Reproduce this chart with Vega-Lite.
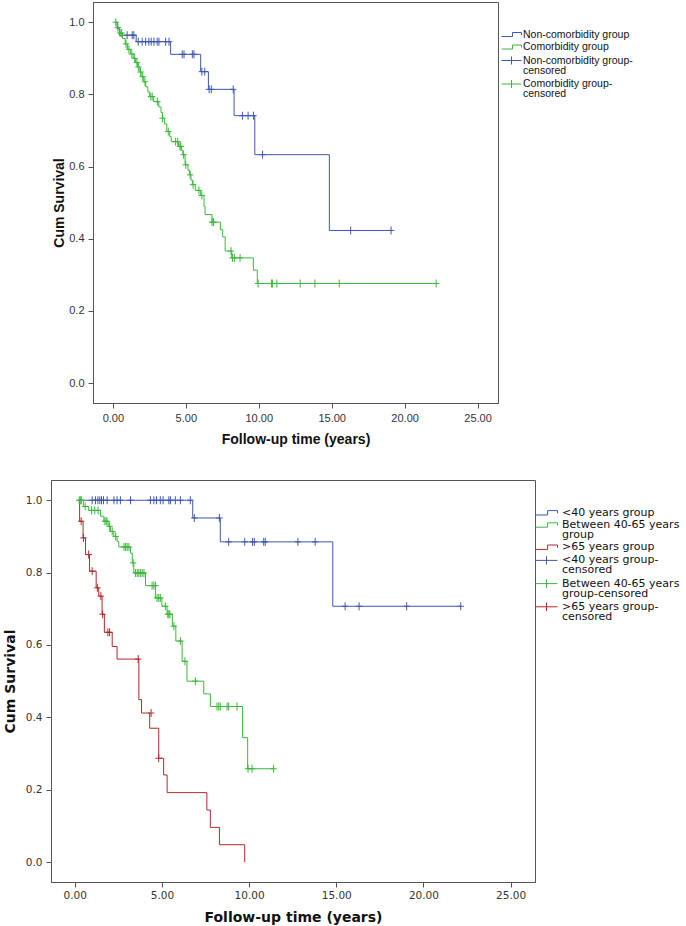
{
  "$schema": "https://vega.github.io/schema/vega-lite/v6.json",
  "background": "white",
  "padding": {"left": 2, "top": 1, "right": 0, "bottom": 0},
  "spacing": 32,
  "config": {
    "view": {"stroke": "#555", "strokeWidth": 1},
    "axis": {"grid": false, "domainColor": "#555", "tickColor": "#555", "tickSize": 5, "labelColor": "#333", "titleColor": "#111", "titleFontWeight": "bold"}
  },
  "datasets": {
    "top_curves": [
      {"s": "Non-comorbidity group", "t": 0.2, "y": 1.0},
      {"s": "Non-comorbidity group", "t": 0.3, "y": 0.982},
      {"s": "Non-comorbidity group", "t": 0.45, "y": 0.964},
      {"s": "Non-comorbidity group", "t": 1.6, "y": 0.946},
      {"s": "Non-comorbidity group", "t": 3.96, "y": 0.911},
      {"s": "Non-comorbidity group", "t": 6.02, "y": 0.863},
      {"s": "Non-comorbidity group", "t": 6.55, "y": 0.814},
      {"s": "Non-comorbidity group", "t": 8.31, "y": 0.741},
      {"s": "Non-comorbidity group", "t": 9.73, "y": 0.633},
      {"s": "Non-comorbidity group", "t": 14.84, "y": 0.423},
      {"s": "Non-comorbidity group", "t": 19.07, "y": 0.423},
      {"s": "Comorbidity group", "t": 0.2, "y": 1.0},
      {"s": "Comorbidity group", "t": 0.3, "y": 0.985},
      {"s": "Comorbidity group", "t": 0.45, "y": 0.97},
      {"s": "Comorbidity group", "t": 0.66, "y": 0.955},
      {"s": "Comorbidity group", "t": 0.85, "y": 0.94},
      {"s": "Comorbidity group", "t": 1.0, "y": 0.925},
      {"s": "Comorbidity group", "t": 1.2, "y": 0.912},
      {"s": "Comorbidity group", "t": 1.4, "y": 0.9},
      {"s": "Comorbidity group", "t": 1.56, "y": 0.888},
      {"s": "Comorbidity group", "t": 1.7, "y": 0.876},
      {"s": "Comorbidity group", "t": 1.85, "y": 0.862},
      {"s": "Comorbidity group", "t": 2.0, "y": 0.849},
      {"s": "Comorbidity group", "t": 2.12, "y": 0.835},
      {"s": "Comorbidity group", "t": 2.25, "y": 0.821},
      {"s": "Comorbidity group", "t": 2.4, "y": 0.807},
      {"s": "Comorbidity group", "t": 2.5, "y": 0.794},
      {"s": "Comorbidity group", "t": 2.8, "y": 0.78},
      {"s": "Comorbidity group", "t": 3.15, "y": 0.765},
      {"s": "Comorbidity group", "t": 3.3, "y": 0.75},
      {"s": "Comorbidity group", "t": 3.4, "y": 0.734},
      {"s": "Comorbidity group", "t": 3.55, "y": 0.718},
      {"s": "Comorbidity group", "t": 3.7, "y": 0.697},
      {"s": "Comorbidity group", "t": 3.9, "y": 0.683},
      {"s": "Comorbidity group", "t": 4.0, "y": 0.669},
      {"s": "Comorbidity group", "t": 4.5, "y": 0.656},
      {"s": "Comorbidity group", "t": 4.7, "y": 0.645},
      {"s": "Comorbidity group", "t": 4.8, "y": 0.633},
      {"s": "Comorbidity group", "t": 4.95, "y": 0.605},
      {"s": "Comorbidity group", "t": 5.15, "y": 0.59},
      {"s": "Comorbidity group", "t": 5.25, "y": 0.577},
      {"s": "Comorbidity group", "t": 5.35, "y": 0.563},
      {"s": "Comorbidity group", "t": 5.45, "y": 0.55},
      {"s": "Comorbidity group", "t": 5.65, "y": 0.534},
      {"s": "Comorbidity group", "t": 6.0, "y": 0.52},
      {"s": "Comorbidity group", "t": 6.25, "y": 0.49},
      {"s": "Comorbidity group", "t": 6.32, "y": 0.467},
      {"s": "Comorbidity group", "t": 6.8, "y": 0.446},
      {"s": "Comorbidity group", "t": 7.37, "y": 0.425},
      {"s": "Comorbidity group", "t": 7.53, "y": 0.405},
      {"s": "Comorbidity group", "t": 7.7, "y": 0.366},
      {"s": "Comorbidity group", "t": 8.15, "y": 0.347},
      {"s": "Comorbidity group", "t": 9.63, "y": 0.313},
      {"s": "Comorbidity group", "t": 9.9, "y": 0.276},
      {"s": "Comorbidity group", "t": 22.16, "y": 0.276}
    ],
    "top_censored": [
      {"s": "Non-comorbidity group-censored", "t": 0.98, "y": 0.964},
      {"s": "Non-comorbidity group-censored", "t": 1.33, "y": 0.964},
      {"s": "Non-comorbidity group-censored", "t": 1.44, "y": 0.964},
      {"s": "Non-comorbidity group-censored", "t": 1.74, "y": 0.946},
      {"s": "Non-comorbidity group-censored", "t": 2.01, "y": 0.946},
      {"s": "Non-comorbidity group-censored", "t": 2.25, "y": 0.946},
      {"s": "Non-comorbidity group-censored", "t": 2.47, "y": 0.946},
      {"s": "Non-comorbidity group-censored", "t": 2.63, "y": 0.946},
      {"s": "Non-comorbidity group-censored", "t": 2.82, "y": 0.946},
      {"s": "Non-comorbidity group-censored", "t": 3.04, "y": 0.946},
      {"s": "Non-comorbidity group-censored", "t": 3.16, "y": 0.946},
      {"s": "Non-comorbidity group-censored", "t": 3.62, "y": 0.946},
      {"s": "Non-comorbidity group-censored", "t": 3.85, "y": 0.946},
      {"s": "Non-comorbidity group-censored", "t": 4.76, "y": 0.911},
      {"s": "Non-comorbidity group-censored", "t": 4.88, "y": 0.911},
      {"s": "Non-comorbidity group-censored", "t": 5.45, "y": 0.911},
      {"s": "Non-comorbidity group-censored", "t": 5.56, "y": 0.911},
      {"s": "Non-comorbidity group-censored", "t": 6.1, "y": 0.863},
      {"s": "Non-comorbidity group-censored", "t": 6.3, "y": 0.863},
      {"s": "Non-comorbidity group-censored", "t": 6.6, "y": 0.814},
      {"s": "Non-comorbidity group-censored", "t": 6.75, "y": 0.814},
      {"s": "Non-comorbidity group-censored", "t": 8.25, "y": 0.814},
      {"s": "Non-comorbidity group-censored", "t": 8.88, "y": 0.741},
      {"s": "Non-comorbidity group-censored", "t": 9.27, "y": 0.741},
      {"s": "Non-comorbidity group-censored", "t": 9.64, "y": 0.741},
      {"s": "Non-comorbidity group-censored", "t": 10.26, "y": 0.633},
      {"s": "Non-comorbidity group-censored", "t": 16.3, "y": 0.423},
      {"s": "Non-comorbidity group-censored", "t": 19.07, "y": 0.423},
      {"s": "Comorbidity group-censored", "t": 0.2, "y": 1.0},
      {"s": "Comorbidity group-censored", "t": 0.35, "y": 0.985},
      {"s": "Comorbidity group-censored", "t": 0.5, "y": 0.97},
      {"s": "Comorbidity group-censored", "t": 0.6, "y": 0.97},
      {"s": "Comorbidity group-censored", "t": 0.9, "y": 0.94},
      {"s": "Comorbidity group-censored", "t": 1.1, "y": 0.925},
      {"s": "Comorbidity group-censored", "t": 1.3, "y": 0.912},
      {"s": "Comorbidity group-censored", "t": 1.5, "y": 0.9},
      {"s": "Comorbidity group-censored", "t": 1.65, "y": 0.888},
      {"s": "Comorbidity group-censored", "t": 1.75, "y": 0.876},
      {"s": "Comorbidity group-censored", "t": 1.9, "y": 0.862},
      {"s": "Comorbidity group-censored", "t": 2.05, "y": 0.849},
      {"s": "Comorbidity group-censored", "t": 2.2, "y": 0.835},
      {"s": "Comorbidity group-censored", "t": 2.6, "y": 0.794},
      {"s": "Comorbidity group-censored", "t": 2.7, "y": 0.794},
      {"s": "Comorbidity group-censored", "t": 3.05, "y": 0.78},
      {"s": "Comorbidity group-censored", "t": 3.4, "y": 0.734},
      {"s": "Comorbidity group-censored", "t": 3.8, "y": 0.697},
      {"s": "Comorbidity group-censored", "t": 4.3, "y": 0.669},
      {"s": "Comorbidity group-censored", "t": 4.45, "y": 0.669},
      {"s": "Comorbidity group-censored", "t": 4.6, "y": 0.656},
      {"s": "Comorbidity group-censored", "t": 4.66, "y": 0.656},
      {"s": "Comorbidity group-censored", "t": 4.85, "y": 0.633},
      {"s": "Comorbidity group-censored", "t": 5.0, "y": 0.605},
      {"s": "Comorbidity group-censored", "t": 5.3, "y": 0.577},
      {"s": "Comorbidity group-censored", "t": 5.5, "y": 0.55},
      {"s": "Comorbidity group-censored", "t": 5.9, "y": 0.534},
      {"s": "Comorbidity group-censored", "t": 6.1, "y": 0.52},
      {"s": "Comorbidity group-censored", "t": 6.8, "y": 0.446},
      {"s": "Comorbidity group-censored", "t": 6.9, "y": 0.446},
      {"s": "Comorbidity group-censored", "t": 8.1, "y": 0.366},
      {"s": "Comorbidity group-censored", "t": 8.2, "y": 0.347},
      {"s": "Comorbidity group-censored", "t": 8.33, "y": 0.347},
      {"s": "Comorbidity group-censored", "t": 8.72, "y": 0.347},
      {"s": "Comorbidity group-censored", "t": 9.96, "y": 0.276},
      {"s": "Comorbidity group-censored", "t": 10.87, "y": 0.276},
      {"s": "Comorbidity group-censored", "t": 10.94, "y": 0.276},
      {"s": "Comorbidity group-censored", "t": 11.24, "y": 0.276},
      {"s": "Comorbidity group-censored", "t": 12.84, "y": 0.276},
      {"s": "Comorbidity group-censored", "t": 13.85, "y": 0.276},
      {"s": "Comorbidity group-censored", "t": 15.52, "y": 0.276},
      {"s": "Comorbidity group-censored", "t": 22.16, "y": 0.276}
    ],
    "bottom_curves": [
      {"s": "<40 years group", "t": 0.2, "y": 1.0},
      {"s": "<40 years group", "t": 6.77, "y": 0.951},
      {"s": "<40 years group", "t": 8.35, "y": 0.885},
      {"s": "<40 years group", "t": 14.8, "y": 0.707},
      {"s": "<40 years group", "t": 22.14, "y": 0.707},
      {"s": "Between 40-65 years group", "t": 0.2, "y": 1.0},
      {"s": "Between 40-65 years group", "t": 0.5, "y": 0.983},
      {"s": "Between 40-65 years group", "t": 0.8, "y": 0.972},
      {"s": "Between 40-65 years group", "t": 1.48, "y": 0.956},
      {"s": "Between 40-65 years group", "t": 1.67, "y": 0.942},
      {"s": "Between 40-65 years group", "t": 1.92, "y": 0.928},
      {"s": "Between 40-65 years group", "t": 2.05, "y": 0.914},
      {"s": "Between 40-65 years group", "t": 2.24, "y": 0.9},
      {"s": "Between 40-65 years group", "t": 2.43, "y": 0.886},
      {"s": "Between 40-65 years group", "t": 2.53, "y": 0.871},
      {"s": "Between 40-65 years group", "t": 3.2, "y": 0.854},
      {"s": "Between 40-65 years group", "t": 3.3, "y": 0.827},
      {"s": "Between 40-65 years group", "t": 3.39, "y": 0.799},
      {"s": "Between 40-65 years group", "t": 4.06, "y": 0.764},
      {"s": "Between 40-65 years group", "t": 4.63, "y": 0.73},
      {"s": "Between 40-65 years group", "t": 5.0, "y": 0.707},
      {"s": "Between 40-65 years group", "t": 5.3, "y": 0.685},
      {"s": "Between 40-65 years group", "t": 5.6, "y": 0.652},
      {"s": "Between 40-65 years group", "t": 5.8, "y": 0.611},
      {"s": "Between 40-65 years group", "t": 6.16, "y": 0.555},
      {"s": "Between 40-65 years group", "t": 6.44, "y": 0.5},
      {"s": "Between 40-65 years group", "t": 7.4, "y": 0.465},
      {"s": "Between 40-65 years group", "t": 7.78, "y": 0.43},
      {"s": "Between 40-65 years group", "t": 9.63, "y": 0.344},
      {"s": "Between 40-65 years group", "t": 9.92, "y": 0.258},
      {"s": "Between 40-65 years group", "t": 11.41, "y": 0.258},
      {"s": ">65 years group", "t": 0.2, "y": 1.0},
      {"s": ">65 years group", "t": 0.28, "y": 0.942},
      {"s": ">65 years group", "t": 0.48, "y": 0.896},
      {"s": ">65 years group", "t": 0.62, "y": 0.85},
      {"s": ">65 years group", "t": 0.85, "y": 0.804},
      {"s": ">65 years group", "t": 1.23, "y": 0.758},
      {"s": ">65 years group", "t": 1.38, "y": 0.735},
      {"s": ">65 years group", "t": 1.57, "y": 0.685},
      {"s": ">65 years group", "t": 1.7, "y": 0.635},
      {"s": ">65 years group", "t": 2.15, "y": 0.596},
      {"s": ">65 years group", "t": 2.43, "y": 0.561},
      {"s": ">65 years group", "t": 3.68, "y": 0.449},
      {"s": ">65 years group", "t": 3.83, "y": 0.412},
      {"s": ">65 years group", "t": 4.3, "y": 0.37},
      {"s": ">65 years group", "t": 4.82, "y": 0.287},
      {"s": ">65 years group", "t": 5.1, "y": 0.241},
      {"s": ">65 years group", "t": 5.3, "y": 0.192},
      {"s": ">65 years group", "t": 7.58, "y": 0.144},
      {"s": ">65 years group", "t": 7.78, "y": 0.096},
      {"s": ">65 years group", "t": 8.3, "y": 0.048},
      {"s": ">65 years group", "t": 9.75, "y": 0.0}
    ],
    "bottom_censored": [
      {"s": "<40 years group-censored", "t": 1.0, "y": 1.0},
      {"s": "<40 years group-censored", "t": 1.19, "y": 1.0},
      {"s": "<40 years group-censored", "t": 1.33, "y": 1.0},
      {"s": "<40 years group-censored", "t": 1.44, "y": 1.0},
      {"s": "<40 years group-censored", "t": 1.54, "y": 1.0},
      {"s": "<40 years group-censored", "t": 1.65, "y": 1.0},
      {"s": "<40 years group-censored", "t": 1.86, "y": 1.0},
      {"s": "<40 years group-censored", "t": 2.25, "y": 1.0},
      {"s": "<40 years group-censored", "t": 2.43, "y": 1.0},
      {"s": "<40 years group-censored", "t": 2.62, "y": 1.0},
      {"s": "<40 years group-censored", "t": 3.2, "y": 1.0},
      {"s": "<40 years group-censored", "t": 4.34, "y": 1.0},
      {"s": "<40 years group-censored", "t": 4.54, "y": 1.0},
      {"s": "<40 years group-censored", "t": 4.69, "y": 1.0},
      {"s": "<40 years group-censored", "t": 4.91, "y": 1.0},
      {"s": "<40 years group-censored", "t": 5.07, "y": 1.0},
      {"s": "<40 years group-censored", "t": 5.4, "y": 1.0},
      {"s": "<40 years group-censored", "t": 5.49, "y": 1.0},
      {"s": "<40 years group-censored", "t": 5.77, "y": 1.0},
      {"s": "<40 years group-censored", "t": 6.06, "y": 1.0},
      {"s": "<40 years group-censored", "t": 6.63, "y": 1.0},
      {"s": "<40 years group-censored", "t": 6.86, "y": 0.951},
      {"s": "<40 years group-censored", "t": 8.3, "y": 0.951},
      {"s": "<40 years group-censored", "t": 8.83, "y": 0.885},
      {"s": "<40 years group-censored", "t": 9.75, "y": 0.885},
      {"s": "<40 years group-censored", "t": 10.2, "y": 0.885},
      {"s": "<40 years group-censored", "t": 10.3, "y": 0.885},
      {"s": "<40 years group-censored", "t": 10.84, "y": 0.885},
      {"s": "<40 years group-censored", "t": 10.93, "y": 0.885},
      {"s": "<40 years group-censored", "t": 12.8, "y": 0.885},
      {"s": "<40 years group-censored", "t": 13.79, "y": 0.885},
      {"s": "<40 years group-censored", "t": 15.51, "y": 0.707},
      {"s": "<40 years group-censored", "t": 16.31, "y": 0.707},
      {"s": "<40 years group-censored", "t": 19.04, "y": 0.707},
      {"s": "<40 years group-censored", "t": 22.14, "y": 0.707},
      {"s": "Between 40-65 years group-censored", "t": 0.26, "y": 1.0},
      {"s": "Between 40-65 years group-censored", "t": 0.32, "y": 1.0},
      {"s": "Between 40-65 years group-censored", "t": 0.38, "y": 1.0},
      {"s": "Between 40-65 years group-censored", "t": 0.6, "y": 0.983},
      {"s": "Between 40-65 years group-censored", "t": 0.97, "y": 0.972},
      {"s": "Between 40-65 years group-censored", "t": 1.15, "y": 0.972},
      {"s": "Between 40-65 years group-censored", "t": 1.34, "y": 0.972},
      {"s": "Between 40-65 years group-censored", "t": 1.73, "y": 0.942},
      {"s": "Between 40-65 years group-censored", "t": 1.8, "y": 0.942},
      {"s": "Between 40-65 years group-censored", "t": 1.85, "y": 0.942},
      {"s": "Between 40-65 years group-censored", "t": 2.0, "y": 0.928},
      {"s": "Between 40-65 years group-censored", "t": 2.15, "y": 0.914},
      {"s": "Between 40-65 years group-censored", "t": 2.35, "y": 0.9},
      {"s": "Between 40-65 years group-censored", "t": 2.83, "y": 0.871},
      {"s": "Between 40-65 years group-censored", "t": 2.92, "y": 0.871},
      {"s": "Between 40-65 years group-censored", "t": 3.01, "y": 0.871},
      {"s": "Between 40-65 years group-censored", "t": 3.11, "y": 0.871},
      {"s": "Between 40-65 years group-censored", "t": 3.35, "y": 0.827},
      {"s": "Between 40-65 years group-censored", "t": 3.49, "y": 0.799},
      {"s": "Between 40-65 years group-censored", "t": 3.59, "y": 0.799},
      {"s": "Between 40-65 years group-censored", "t": 3.68, "y": 0.799},
      {"s": "Between 40-65 years group-censored", "t": 3.78, "y": 0.799},
      {"s": "Between 40-65 years group-censored", "t": 3.87, "y": 0.799},
      {"s": "Between 40-65 years group-censored", "t": 3.97, "y": 0.799},
      {"s": "Between 40-65 years group-censored", "t": 4.44, "y": 0.764},
      {"s": "Between 40-65 years group-censored", "t": 4.54, "y": 0.764},
      {"s": "Between 40-65 years group-censored", "t": 4.63, "y": 0.764},
      {"s": "Between 40-65 years group-censored", "t": 4.72, "y": 0.73},
      {"s": "Between 40-65 years group-censored", "t": 4.82, "y": 0.73},
      {"s": "Between 40-65 years group-censored", "t": 4.91, "y": 0.73},
      {"s": "Between 40-65 years group-censored", "t": 5.2, "y": 0.707},
      {"s": "Between 40-65 years group-censored", "t": 5.34, "y": 0.685},
      {"s": "Between 40-65 years group-censored", "t": 5.4, "y": 0.685},
      {"s": "Between 40-65 years group-censored", "t": 5.46, "y": 0.685},
      {"s": "Between 40-65 years group-censored", "t": 5.69, "y": 0.652},
      {"s": "Between 40-65 years group-censored", "t": 6.06, "y": 0.611},
      {"s": "Between 40-65 years group-censored", "t": 6.32, "y": 0.555},
      {"s": "Between 40-65 years group-censored", "t": 6.92, "y": 0.5},
      {"s": "Between 40-65 years group-censored", "t": 8.16, "y": 0.43},
      {"s": "Between 40-65 years group-censored", "t": 8.26, "y": 0.43},
      {"s": "Between 40-65 years group-censored", "t": 8.35, "y": 0.43},
      {"s": "Between 40-65 years group-censored", "t": 8.74, "y": 0.43},
      {"s": "Between 40-65 years group-censored", "t": 8.83, "y": 0.43},
      {"s": "Between 40-65 years group-censored", "t": 9.31, "y": 0.43},
      {"s": "Between 40-65 years group-censored", "t": 9.94, "y": 0.258},
      {"s": "Between 40-65 years group-censored", "t": 10.17, "y": 0.258},
      {"s": "Between 40-65 years group-censored", "t": 11.41, "y": 0.258},
      {"s": ">65 years group-censored", "t": 0.37, "y": 0.942},
      {"s": ">65 years group-censored", "t": 0.5, "y": 0.896},
      {"s": ">65 years group-censored", "t": 0.8, "y": 0.85},
      {"s": ">65 years group-censored", "t": 1.0, "y": 0.804},
      {"s": ">65 years group-censored", "t": 1.3, "y": 0.758},
      {"s": ">65 years group-censored", "t": 1.5, "y": 0.735},
      {"s": ">65 years group-censored", "t": 1.6, "y": 0.685},
      {"s": ">65 years group-censored", "t": 1.9, "y": 0.635},
      {"s": ">65 years group-censored", "t": 2.0, "y": 0.635},
      {"s": ">65 years group-censored", "t": 3.64, "y": 0.561},
      {"s": ">65 years group-censored", "t": 4.38, "y": 0.412},
      {"s": ">65 years group-censored", "t": 4.82, "y": 0.287}
    ]
  },
  "resolve": {"scale": {"color": "independent"}, "legend": {"color": "independent"}},
  "vconcat": [
    {"spacing": 0, "hconcat": [
    {
      "width": 1,
      "height": 10,
      "view": {"stroke": null},
      "data": {"values": []},
      "mark": {"type": "point", "opacity": 0}
    },
    {
      "width": 405,
      "height": 401,
      "encoding": {
        "x": {"field": "t", "type": "quantitative", "scale": {"domain": [-1.36, 26.4], "nice": false, "zero": false},
          "axis": {"values": [0, 5, 10, 15, 20, 25], "format": ".2f", "title": "Follow-up time (years)", "labelFont": "Liberation Sans", "labelFontSize": 11, "titleFont": "Liberation Sans", "titleFontSize": 14, "labelPadding": 4, "titlePadding": 9}},
        "y": {"field": "y", "type": "quantitative", "scale": {"domain": [-0.055, 1.056], "nice": false, "zero": false},
          "axis": {"values": [0, 0.2, 0.4, 0.6, 0.8, 1], "format": ".1f", "title": "Cum Survival", "labelFont": "Liberation Sans", "labelFontSize": 11, "titleFont": "Liberation Sans", "titleFontSize": 14, "labelPadding": 4, "titlePadding": 2}},
        "color": {"field": "s", "type": "nominal",
          "scale": {"domain": ["Non-comorbidity group", "Comorbidity group", "Non-comorbidity group-censored", "Comorbidity group-censored"], "range": ["#3f58b0", "#3db83d", "#3f58b0", "#3db83d"]},
          "legend": {"title": null, "orient": "none", "legendX": 450, "legendY": 27, "padding": 0, "symbolSize": 100, "symbolStrokeWidth": 1,
            "labelFont": "Liberation Sans", "labelFontSize": 10.5, "labelOffset": 11, "rowPadding": 1.5, "labelLimit": 300, "labelColor": "#111",
            "labelExpr": "indexof(datum.label, 'censored') > 0 ? [replace(datum.label, 'censored', ''), 'censored'] : datum.label",
            "encode": {
              "labels": {"update": {"lineHeight": {"value": 10}}},
              "symbols": {"update": {"shape": {"signal": "indexof(datum.value, 'censored') > 0 ? 'M-1,0H3M1,-0.8V0.8' : 'M-1,0.4H1.2V-0.4H3V0.1'"}, "fill": {"value": "transparent"}, "strokeWidth": {"value": 1}}}}}
        }
      },
      "layer": [
        {"data": {"name": "top_curves"}, "mark": {"type": "line", "interpolate": "step-after", "strokeWidth": 1}},
        {"data": {"name": "top_censored"}, "mark": {"type": "point", "shape": "M-0.8,0H0.8M0,-1V1", "size": 64, "filled": false, "strokeWidth": 1, "opacity": 1}}
      ]
    }]},
    {
      "width": 484,
      "height": 402,
      "encoding": {
        "x": {"field": "t", "type": "quantitative", "scale": {"domain": [-1.36, 26.4], "nice": false, "zero": false},
          "axis": {"values": [0, 5, 10, 15, 20, 25], "format": ".2f", "title": "Follow-up time (years)", "labelFont": "DejaVu Sans", "labelFontSize": 10.5, "titleFont": "DejaVu Sans", "titleFontSize": 14, "labelPadding": 3, "titlePadding": 10}},
        "y": {"field": "y", "type": "quantitative", "scale": {"domain": [-0.055, 1.056], "nice": false, "zero": false},
          "axis": {"values": [0, 0.2, 0.4, 0.6, 0.8, 1], "format": ".1f", "title": "Cum Survival", "labelFont": "DejaVu Sans", "labelFontSize": 10.5, "titleFont": "DejaVu Sans", "titleFontSize": 14, "labelPadding": 4, "titlePadding": 8}},
        "color": {"field": "s", "type": "nominal",
          "scale": {"domain": ["<40 years group", "Between 40-65 years group", ">65 years group", "<40 years group-censored", "Between 40-65 years group-censored", ">65 years group-censored"], "range": ["#3f58b0", "#3db83d", "#b22a2a", "#3f58b0", "#3db83d", "#b22a2a"]},
          "legend": {"title": null, "orient": "none", "legendX": 484, "legendY": 26.8, "padding": 0, "symbolSize": 121, "symbolStrokeWidth": 1,
            "labelFont": "DejaVu Sans", "labelFontSize": 11, "labelOffset": 15, "rowPadding": 1.2, "labelLimit": 300, "labelColor": "#111",
            "labelExpr": "datum.label == 'Between 40-65 years group' ? ['Between 40-65 years', 'group'] : datum.label == 'Between 40-65 years group-censored' ? ['Between 40-65 years', 'group-censored'] : indexof(datum.label, 'censored') > 0 ? [replace(datum.label, 'censored', ''), 'censored'] : datum.label",
            "encode": {
              "labels": {"update": {"lineHeight": {"value": 10}}},
              "symbols": {"update": {"shape": {"signal": "indexof(datum.value, 'censored') > 0 ? 'M-1,0H3M1,-0.75V0.75' : 'M-1,0.4H1.2V-0.4H3V0.1'"}, "fill": {"value": "transparent"}, "strokeWidth": {"value": 1}}}}}
        }
      },
      "layer": [
        {"data": {"name": "bottom_curves"}, "mark": {"type": "line", "interpolate": "step-after", "strokeWidth": 1}},
        {"data": {"name": "bottom_censored"}, "mark": {"type": "point", "shape": "M-0.8,0H0.8M0,-1V1", "size": 64, "filled": false, "strokeWidth": 1, "opacity": 1}}
      ]
    }
  ]
}
